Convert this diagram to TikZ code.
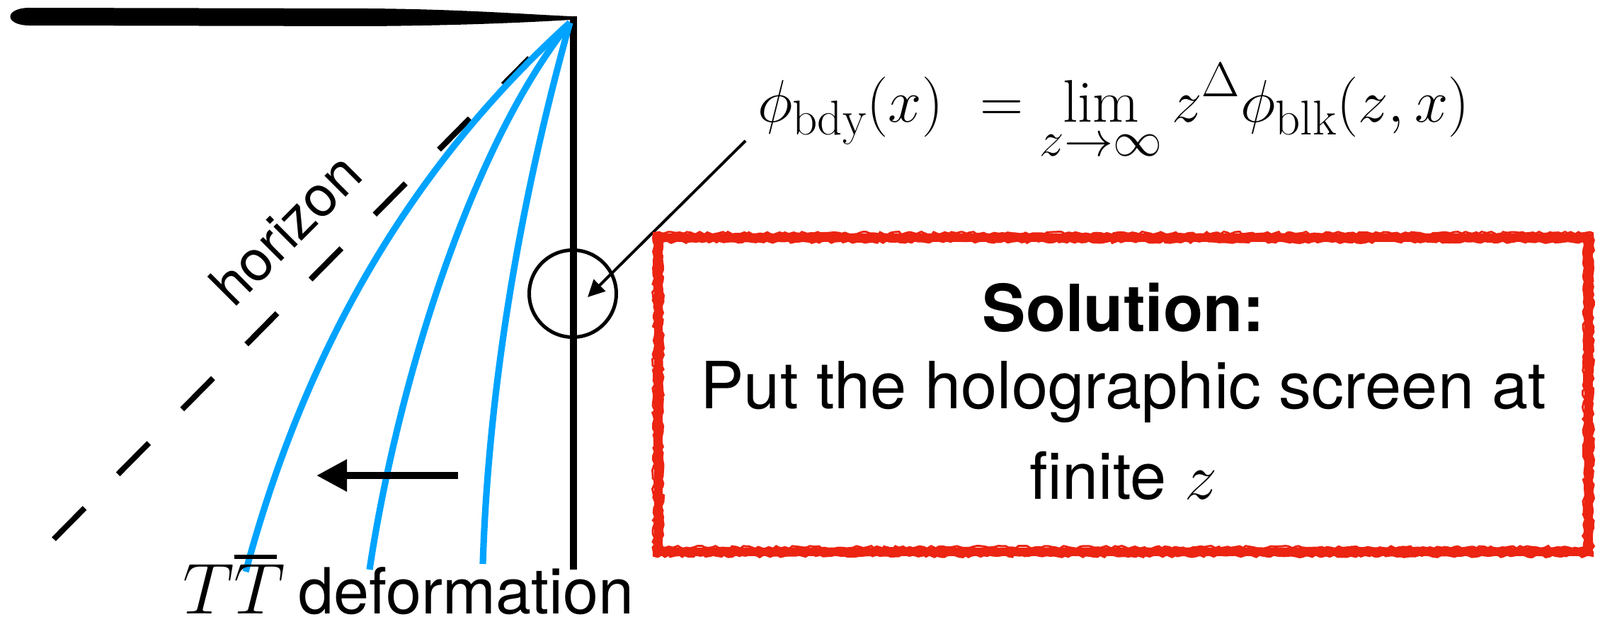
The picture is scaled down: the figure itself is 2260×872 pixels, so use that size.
\RequirePackage{fix-cm}
\documentclass[tikz,border=0pt]{standalone}
\usepackage{exscale}
\usepackage{fontspec}
\usetikzlibrary{arrows.meta,decorations.pathmorphing}
\newfontfamily\hel{TeX Gyre Heros}
\definecolor{bluec}{RGB}{0,163,255}
\definecolor{redc}{RGB}{236,36,18}
\DeclareMathSizes{42.5}{42.5}{34.5}{27}
\DeclareMathSizes{51}{51}{36}{26}
\begin{document}
\begin{tikzpicture}[x=0.5pt,y=-0.5pt,
  txt/.style={font=\hel\fontsize{46}{55}\selectfont, inner sep=0},
  bluecurve/.style={bluec, line width=4.6pt},
  rough/.style={redc, line width=1.5pt, decorate, decoration={random steps, segment length=2.5pt, amplitude=1pt}}]
\useasboundingbox (0,0) rectangle (2260,872);

% brush stroke (top boundary)
\fill (40,11) -- (520,12) .. controls (650,13) and (740,20) .. (806,23) -- (806,28) .. controls (740,32) and (650,36) .. (520,37) -- (40,36) .. controls (6,35) and (6,12) .. (40,11) -- cycle;

% boundary line
\coordinate (apex) at (810,23);
\coordinate (bottom) at (810,805);
\draw[line width=5pt] (apex) -- (bottom);

% horizon (dashed)
\coordinate (h1) at (76,762);
\coordinate (h2) at (748,82);
\draw[line width=4pt, dash pattern=on 31pt off 33.5pt] (h1) -- (h2);

% blue curves
\coordinate (cs) at (805,32);
\coordinate (e1) at (347,808);
\coordinate (e2) at (522,805);
\coordinate (e3) at (682,797);
\draw[bluecurve] (cs) .. controls (539,273) and (414.5,558) .. (e1);
\draw[bluecurve] (cs) .. controls (661,212) and (559.5,555) .. (e2);
\draw[bluecurve] (cs) .. controls (735,282) and (690,547) .. (e3);

% thick arrow
\coordinate (a1) at (647,672);
\coordinate (a2) at (447,672);
\draw[line width=5pt, -{Triangle[length=21.5pt,width=21.5pt]}] (a1) -- (a2);

% circle
\node[circle, draw, line width=2.5pt, minimum size=61.5pt, inner sep=0] (circ) at (809,415) {};

% formula
\node[anchor=base west, inner sep=0, font=\fontsize{42.5}{50}\selectfont] (formula) at (1070,172)
  {$\displaystyle \phi_{\mathrm{bdy}}(x)\mkern6mu=\lim_{\rule{0pt}{20pt}z\to\infty} z^{\Delta}\phi_{\mathrm{blk}}(z,x)$};

% thin arrow
\coordinate (f1) at (1053,199);
\coordinate (ctip) at (830,420);
\draw[line width=2pt, -{Triangle[length=12pt,width=11.5pt]}] (f1) -- (ctip);

% red box
\draw[redc, line width=6pt] (929.5,335.5) rectangle (2243.5,779.5);
\draw[rough] (923.5,329.5) rectangle (2249.5,785.5);
\draw[rough] (935.5,341.5) rectangle (2237.5,773.5);

% box text
\node[txt, font=\hel\bfseries\fontsize{46}{55}\selectfont, anchor=base] (sol) at (1587,468) {Solution:};
\node[txt, anchor=base] (put) at (1587,577) {Put the holographic screen at};
\node[txt, anchor=base] (fin) at (1587,705) {finite $z$};

% horizon label
\node[font=\hel\fontsize{40}{48}\selectfont, inner sep=0, rotate=45, anchor=base west] (hor) at (330,437) {horizon};

% TTbar deformation
\node[anchor=base west, inner sep=0] (tt) at (258,867)
  {\fontsize{51}{60}\selectfont$T$\rlap{\raisebox{38.5pt}{\rule{30pt}{3pt}}}$T$\hspace{9pt}\hel\fontsize{45}{54}\selectfont deformation};
\end{tikzpicture}
\end{document}
